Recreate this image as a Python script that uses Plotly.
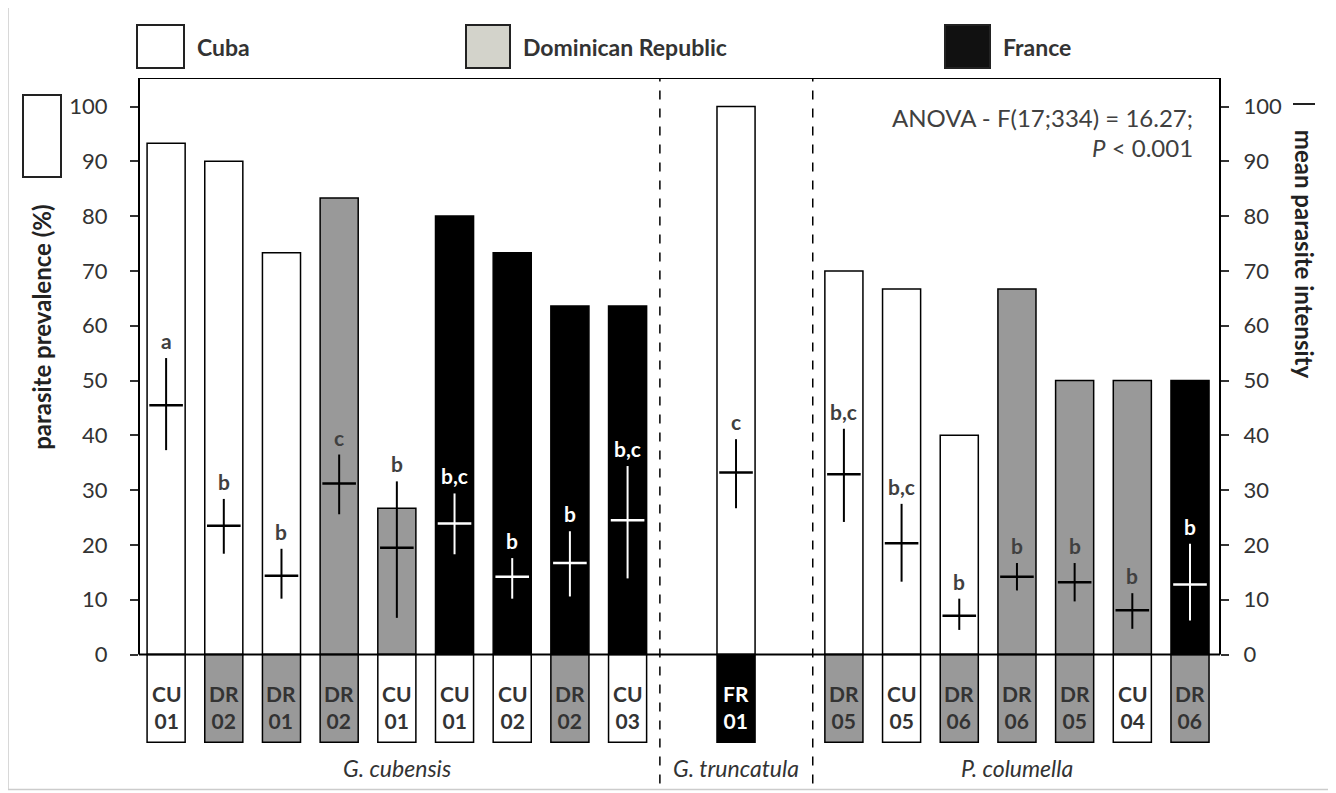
import plotly.graph_objects as go

# ---------------- data ----------------
sites = ["CU 01", "DR 02", "DR 01", "DR 02", "CU 01", "CU 01", "CU 02", "DR 02", "CU 03",
         "FR 01",
         "DR 05", "CU 05", "DR 06", "DR 06", "DR 05", "CU 04", "DR 06"]
species_names = ["G. cubensis", "G. truncatula", "P. columella"]
species_counts = [9, 1, 7]
bar_origin = ["Cuba", "Cuba", "Cuba", "Dominican Republic", "Dominican Republic",
              "France", "France", "France", "France",
              "Cuba",
              "Cuba", "Cuba", "Cuba", "Dominican Republic", "Dominican Republic",
              "Dominican Republic", "France"]
prevalence = [93.3, 90.0, 73.3, 83.3, 26.7, 80.0, 73.3, 63.6, 63.6,
              100.0,
              70.0, 66.7, 40.0, 66.7, 50.0, 50.0, 50.0]
intensity_mean = [45.5, 23.5, 14.4, 31.2, 19.5, 23.9, 14.2, 16.7, 24.5,
                  33.2,
                  32.9, 20.3, 7.1, 14.2, 13.2, 8.1, 12.8]
intensity_hi = [54.1, 28.4, 19.3, 36.5, 31.6, 29.4, 17.6, 22.5, 34.4,
                39.3,
                41.2, 27.5, 10.2, 16.7, 16.7, 11.2, 20.2]
intensity_lo = [37.3, 18.4, 10.2, 25.6, 6.7, 18.3, 10.2, 10.6, 13.9,
                26.7,
                24.2, 13.3, 4.5, 11.7, 9.7, 4.7, 6.2]
letters = ["a", "b", "b", "c", "b", "b,c", "b", "b", "b,c",
           "c",
           "b,c", "b,c", "b", "b", "b", "b", "b"]
origins = ["Cuba", "Dominican Republic", "France"]
site_prefix_origin = {"CU": "Cuba", "DR": "Dominican Republic", "FR": "France"}
ticks = list(range(0, 101, 10))
anova_line1 = "ANOVA - F(17;334) = 16.27;"
anova_line2 = "<i>P</i> < 0.001"

# ---------------- styling / layout ----------------
FONT = "Lato"
TXT = "#333333"
bar_fill = {"Cuba": "#ffffff", "Dominican Republic": "#999999", "France": "#000000"}
legend_fill = {"Cuba": "#ffffff", "Dominican Republic": "#d3d3cb", "France": "#111111"}
on_dark = {"Cuba": False, "Dominican Republic": False, "France": True}

OFF = 8                      # page offset of the figure (body margin)
W, H = 1336 - OFF, 793 - OFF
L, R, T, B = 139 - OFF, 116, 78 - OFF, 47.5
PW, PH = W - L - R, H - T - B
Y_MIN, Y_MAX = -16.5, 105.2
X_MIN, X_MAX = -0.47, 18.27
group_starts = [0, 9.88, 11.75]
divider_x = [8.56, 11.21]
BOX_DEPTH = -16.0


def fx(p):  # page pixel -> paper x
    return (p - OFF - L) / PW


def fy(p):  # page pixel -> paper y
    return (H - B - (p - OFF)) / PH


pos = []
grp_center = []
for gs, n in zip(group_starts, species_counts):
    xs = [gs + j for j in range(n)]
    pos += xs
    grp_center.append((xs[0] + xs[-1]) / 2)

fig = go.Figure()

# prevalence bars
fig.add_trace(go.Bar(
    x=pos, y=prevalence, width=0.66,
    marker=dict(color=[bar_fill[o] for o in bar_origin], line=dict(color="black", width=1.5)),
    hoverinfo="skip", showlegend=False, yaxis="y"))

# site label boxes below the axis
label_origin = [site_prefix_origin[s.split()[0]] for s in sites]
fig.add_trace(go.Bar(
    x=pos, y=[BOX_DEPTH] * len(pos), width=0.66,
    marker=dict(color=[bar_fill[o] for o in label_origin], line=dict(color="black", width=1.5)),
    hoverinfo="skip", showlegend=False, yaxis="y"))

# mean intensity with ranges (split by contrast colour)
for dark_bg, col in [(False, "black"), (True, "white")]:
    idx = [i for i, o in enumerate(bar_origin) if on_dark[o] == dark_bg]
    fig.add_trace(go.Scatter(
        x=[pos[i] for i in idx], y=[intensity_mean[i] for i in idx],
        mode="markers",
        marker=dict(symbol="line-ew", size=24, line=dict(color=col, width=2.5)),
        error_y=dict(type="data", symmetric=False,
                     array=[intensity_hi[i] - intensity_mean[i] for i in idx],
                     arrayminus=[intensity_mean[i] - intensity_lo[i] for i in idx],
                     width=0, thickness=2, color=col),
        hoverinfo="skip", showlegend=False, yaxis="y2"))

ann = []
# significance letters
for i, lt in enumerate(letters):
    ann.append(dict(x=pos[i], y=intensity_hi[i], xref="x", yref="y", text="<b>" + lt + "</b>",
                    showarrow=False, xanchor="center", yanchor="bottom", yshift=3,
                    font=dict(family=FONT, size=21,
                              color="white" if on_dark[bar_origin[i]] else "#404040")))
# site labels in boxes
for i, s in enumerate(sites):
    a, b = s.split()
    ann.append(dict(x=pos[i], y=BOX_DEPTH / 2 - 1.5, xref="x", yref="y",
                    text="<b>" + a + "<br>" + b + "</b>", showarrow=False,
                    xanchor="center", yanchor="middle",
                    font=dict(family=FONT, size=21,
                              color="white" if label_origin[i] == "France" else "#333333")))
# species labels
for nm, cx in zip(species_names, grp_center):
    ann.append(dict(x=cx, y=fy(769), xref="x", yref="paper", text="<i>" + nm + "</i>",
                    showarrow=False, xanchor="center", yanchor="middle",
                    font=dict(family=FONT, size=23, color=TXT)))
# ANOVA text
ann.append(dict(x=fx(1195), y=fy(118), xref="paper", yref="paper", text=anova_line1,
                showarrow=False, xanchor="right", yanchor="middle",
                font=dict(family=FONT, size=24, color="#404040")))
ann.append(dict(x=fx(1195), y=fy(148), xref="paper", yref="paper", text=anova_line2,
                showarrow=False, xanchor="right", yanchor="middle",
                font=dict(family=FONT, size=24, color="#404040")))
# axis titles
ann.append(dict(x=fx(42), y=fy(328), xref="paper", yref="paper",
                text="<b>parasite prevalence (%)</b>", textangle=-90, showarrow=False,
                xanchor="center", yanchor="middle",
                font=dict(family=FONT, size=24, color="#222222")))
ann.append(dict(x=fx(1304), y=fy(254), xref="paper", yref="paper",
                text="<b>mean parasite intensity</b>", textangle=90, showarrow=False,
                xanchor="center", yanchor="middle",
                font=dict(family=FONT, size=24, color="#222222")))

shapes = []
# legend boxes + text
leg_boxes = {"Cuba": (137, 184), "Dominican Republic": (466, 510), "France": (945, 990)}
for o in origins:
    x0, x1 = leg_boxes[o]
    shapes.append(dict(type="rect", xref="paper", yref="paper", x0=fx(x0), x1=fx(x1),
                       y0=fy(68), y1=fy(25), fillcolor=legend_fill[o],
                       line=dict(color="#222222", width=2)))
    ann.append(dict(x=fx(x1 + 11), y=fy(47), xref="paper", yref="paper", text="<b>" + o + "</b>",
                    showarrow=False, xanchor="left", yanchor="middle",
                    font=dict(family=FONT, size=23, color=TXT)))
# left-axis key box
shapes.append(dict(type="rect", xref="paper", yref="paper", x0=fx(23), x1=fx(61),
                   y0=fy(177), y1=fy(95), fillcolor="white", line=dict(color="#222222", width=2)))
# right-axis key dash
shapes.append(dict(type="line", xref="paper", yref="paper", x0=fx(1293), x1=fx(1315),
                   y0=fy(104), y1=fy(104), line=dict(color="#222222", width=2)))
# plot frame (top, left, right) and zero line
shapes.append(dict(type="line", xref="paper", yref="y", x0=0, x1=1, y0=Y_MAX, y1=Y_MAX,
                   line=dict(color="black", width=2)))
shapes.append(dict(type="line", xref="paper", yref="y", x0=0, x1=0, y0=0, y1=Y_MAX,
                   line=dict(color="black", width=2)))
shapes.append(dict(type="line", xref="paper", yref="y", x0=1, x1=1, y0=0, y1=Y_MAX,
                   line=dict(color="black", width=2)))
shapes.append(dict(type="line", xref="paper", yref="y", x0=0, x1=1, y0=0, y1=0,
                   line=dict(color="black", width=2), layer="above"))
# dashed dividers
for dx in divider_x:
    shapes.append(dict(type="line", xref="x", yref="paper", x0=dx, x1=dx,
                       y0=fy(784), y1=fy(78), line=dict(color="black", width=1.5, dash="dash")))
# outer light border
shapes.append(dict(type="rect", xref="paper", yref="paper", x0=fx(8), x1=fx(1330),
                   y0=fy(790), y1=fy(6), line=dict(color="#cccccc", width=1.5)))

axis_common = dict(range=[Y_MIN, Y_MAX], tickvals=ticks, ticks="outside", ticklen=8,
                   tickwidth=1.5, tickcolor="#333333", showgrid=False, zeroline=False,
                   showline=False, tickfont=dict(family=FONT, size=22, color=TXT))

fig.update_layout(
    width=W, height=H,
    margin=dict(l=L, r=R, t=T, b=B, pad=0),
    paper_bgcolor="white", plot_bgcolor="white",
    barmode="overlay",
    xaxis=dict(range=[X_MIN, X_MAX], showticklabels=False, ticks="", showgrid=False,
               zeroline=False, showline=False),
    yaxis=dict(side="left", ticklabelstandoff=18, **axis_common),
    yaxis2=dict(side="right", overlaying="y", ticklabelstandoff=10, **axis_common),
    shapes=shapes, annotations=ann,
    font=dict(family=FONT, color=TXT),
)

fig.write_html("out.html")
